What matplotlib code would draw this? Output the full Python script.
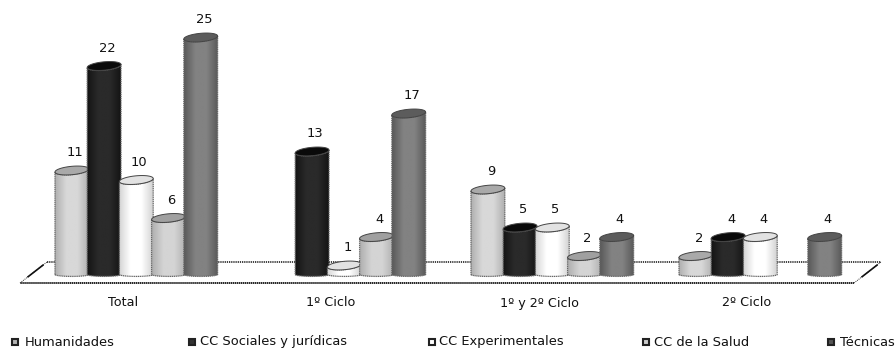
import numpy as np
import matplotlib
matplotlib.use('Agg')
import matplotlib.pyplot as plt
from matplotlib.patches import PathPatch, Polygon
from matplotlib.path import Path

categories = ['Total', '1º Ciclo', '1º y 2º Ciclo', '2º Ciclo']
series = ['Humanidades', 'CC Sociales y jurídicas', 'CC Experimentales', 'CC de la Salud', 'Técnicas']
humanidades = [11, None, 9, 2]
sociales = [22, 13, 5, 4]
experimentales = [10, 1, 5, 4]
salud = [6, 4, 2, None]
tecnicas = [25, 17, 4, 4]
values = [humanidades, sociales, experimentales, salud, tecnicas]

# edge colour, centre colour, top colour of each cylinder
shades = [('#b0b0b0', '#d8d8d8', '#a9a9a9'),
          ('#141414', '#2a2a2a', '#0a0a0a'),
          ('#d4d4d4', '#ffffff', '#e2e2e2'),
          ('#b0b0b0', '#d4d4d4', '#a0a0a0'),
          ('#5a5a5a', '#828282', '#5c5c5c')]
legend_colors = ['#b4b4b4', '#333333', '#ffffff', '#cccccc', '#555555']
legend_px = [14.5, 192, 432, 646, 831]
legend_text_px = [25, 200, 439, 654, 840]

W, H = 896, 349
BAR_PX = 32.2      # one bar width in pixels
UNIT_PX = 9.5      # one count in pixels
X0, Y0 = 55, 275   # first bar left edge and baseline
GROUP = 208 / BAR_PX

fig = plt.figure(figsize=(W / 100, H / 100), dpi=100)
ax = fig.add_axes([0, 0, 1, 1])
ax.set_xlim(-X0 / BAR_PX, (W - X0) / BAR_PX)
ax.set_ylim((Y0 - H) / UNIT_PX, Y0 / UNIT_PX)
ax.axis('off')


def px(x, y):
    return (x - X0) / BAR_PX, (Y0 - y) / UNIT_PX


# Floor of the chart
floor = [px(20, 283), px(47, 262), px(881, 262), px(854, 283)]
ax.add_patch(Polygon(floor, closed=True, fc='white', ec='none', zorder=1))
xs, ys = zip(*floor)
ax.plot([xs[1], xs[2]], [ys[1], ys[2]], color='#333333', lw=1.3, ls=(0, (0.7, 0.5)), zorder=1.2)
ax.plot([xs[3], xs[0]], [ys[3], ys[0]], color='#111111', lw=1.3, ls=(0, (0.8, 0.3)), zorder=1.2)
for a, b in [(floor[0], floor[1]), (floor[3], floor[2])]:
    ax.plot([a[0], b[0]], [a[1], b[1]], color='#333333', lw=0.7, ls=(0, (1, 1)), zorder=1.2)
    p1 = (a[0] + (b[0] - a[0]) * 0.3, a[1] + (b[1] - a[1]) * 0.3)
    p2 = (a[0] + (b[0] - a[0]) * 0.85, a[1] + (b[1] - a[1]) * 0.85)
    ax.plot([p1[0], p2[0]], [p1[1], p2[1]], color='#111111', lw=1.2, zorder=1.5)

t = np.linspace(0, 2 * np.pi, 60)
ry = 4.2 / UNIT_PX
tilt = 1.5 / UNIT_PX
wid = 1.05


def cylinder(x, v, shade, z):
    edge, centre, top = shade
    half = np.linspace(np.pi, 2 * np.pi, 30)
    # body: front half of the bottom ellipse and of the top ellipse
    bx = x + wid / 2 + wid / 2 * np.cos(half)
    by = 0.45 * ry * np.sin(half) + 0.05
    tx = bx[::-1]
    ty = v + ry * np.sin(half[::-1]) + tilt * np.cos(half[::-1])
    verts = np.vstack([np.column_stack([bx, by]), np.column_stack([tx, ty]), [[bx[0], by[0]]]])
    codes = [Path.MOVETO] + [Path.LINETO] * (len(verts) - 2) + [Path.CLOSEPOLY]
    body = Path(verts, codes)
    cmap = matplotlib.colors.LinearSegmentedColormap.from_list('c', [edge, centre, centre, edge], N=64)
    im = ax.imshow(np.linspace(0, 1, 64).reshape(1, -1), extent=(x, x + wid, -1, v + 1), aspect='auto',
                   cmap=cmap, zorder=z, interpolation='bilinear')
    patch = PathPatch(body, fc='none', ec='#666666', lw=0.9, ls=(0, (1, 0.5)), zorder=z + 0.01)
    ax.add_patch(patch)
    im.set_clip_path(patch)
    ex = x + wid / 2 + wid / 2 * np.cos(t)
    ey = v + ry * np.sin(t) + tilt * np.cos(t)
    ax.fill(ex, ey, fc=top, ec='#444444', lw=0.7, zorder=z + 0.02)


for j, vals in enumerate(values):
    for i, v in enumerate(vals):
        if v is None:
            continue
        x = i * GROUP + j
        cylinder(x, v, shades[j], 3 + i + j * 0.1)
        ax.text(x + 0.62, v + 1.85, str(v), ha='center', va='center', fontsize=9.4, color='#111111', zorder=20)

ax.set_xlim(-X0 / BAR_PX, (W - X0) / BAR_PX)
ax.set_ylim((Y0 - H) / UNIT_PX, Y0 / UNIT_PX)

# Category labels
for i, c in enumerate(categories):
    lx, ly = px(123 + 208 * i, 303)
    ax.text(lx, ly, c, ha='center', va='center', fontsize=9.2, color='#111111')

# Legend
for name, col, p, tp in zip(series, legend_colors, legend_px, legend_text_px):
    lx, ly = px(p, 342)
    ax.plot([lx], [ly], 's', ms=4.6, mfc=col, mec='#222222', mew=1.5, zorder=20)
    tx, _ = px(tp, 342)
    ax.text(tx, ly, name, ha='left', va='center', fontsize=9.4, color='#111111', clip_on=False)

fig.savefig('out.png', dpi=100)
